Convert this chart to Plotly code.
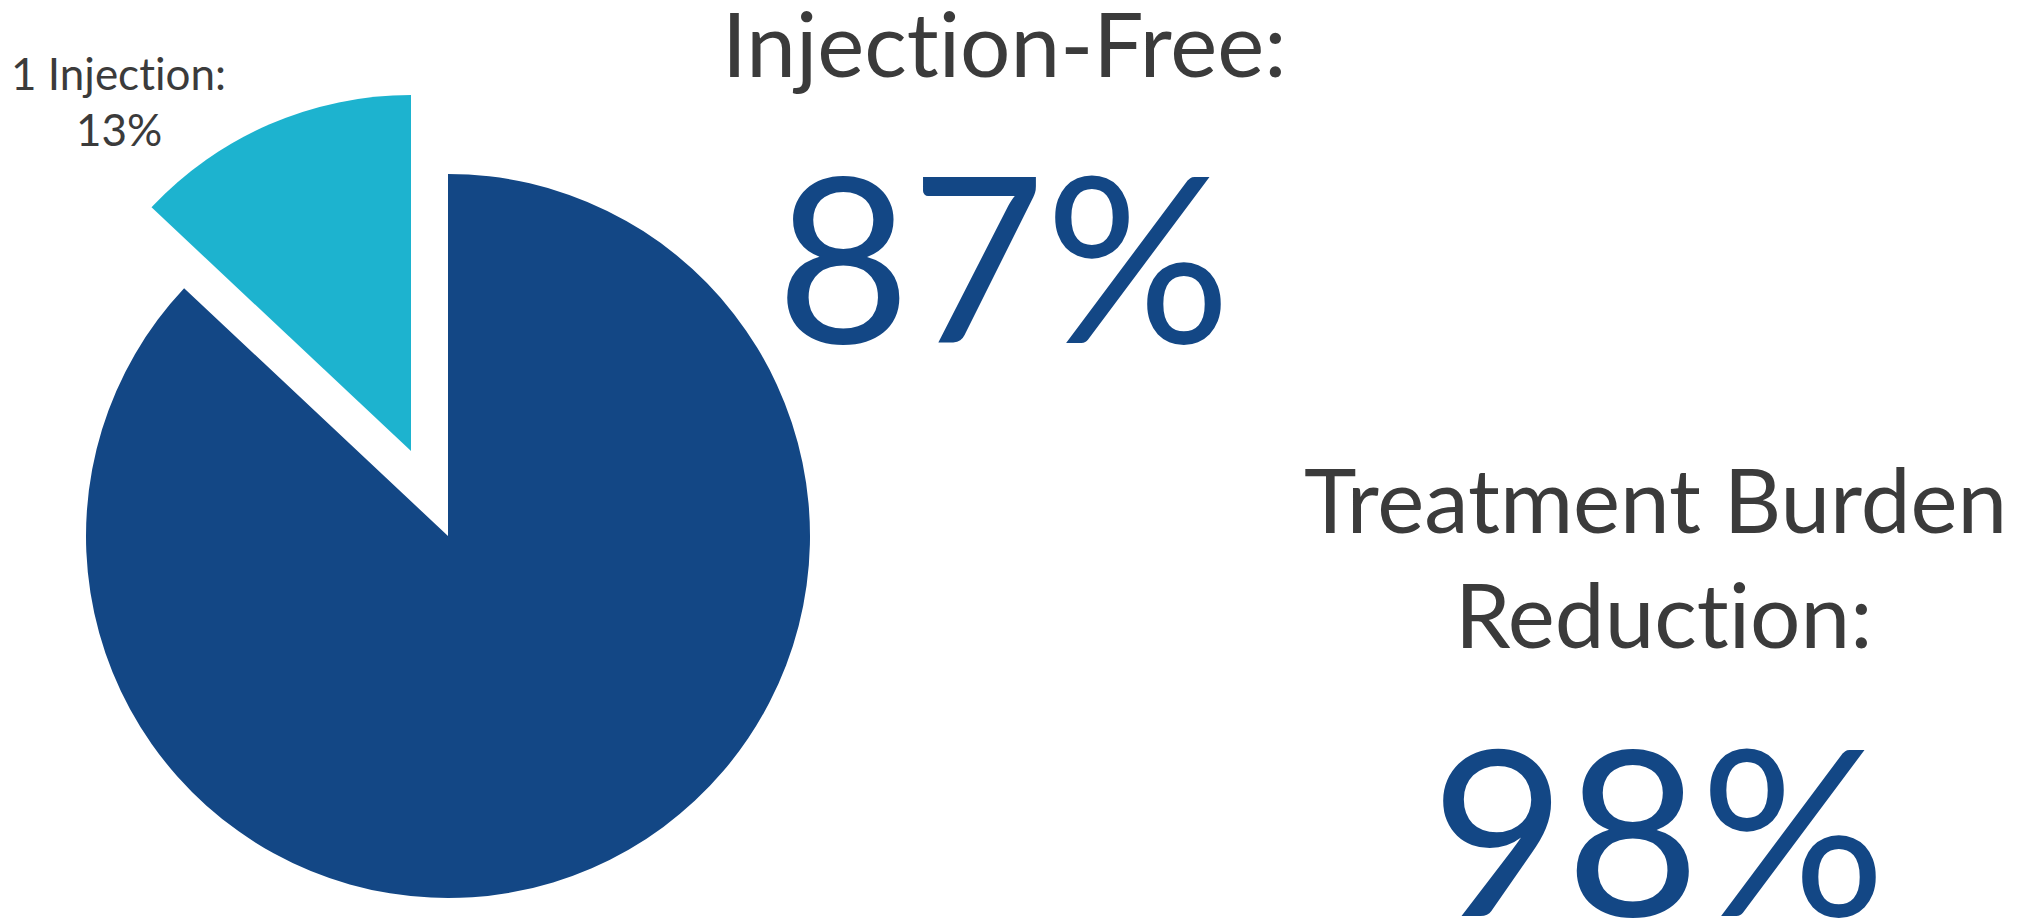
import plotly.graph_objects as go

# ---- data ----
labels = ["Injection-Free", "1 Injection"]
values = [87, 13]
slice_colors = ["#134785", "#1DB3CF"]
headline_injection_free = "87%"
headline_burden = "98%"
burden_reduction_label = ["Treatment Burden", "Reduction:"]

W, H = 2039, 921
TRANSPARENT = "rgba(0,0,0,0)"

def dom(cx, cy, r):
    # pixel centre/radius -> paper domain
    return dict(x=[(cx - r) / W, (cx + r) / W],
                y=[(H - (cy + r)) / H, (H - (cy - r)) / H])

fig = go.Figure()
# main slice
fig.add_trace(go.Pie(
    labels=labels, values=values, sort=False, direction="clockwise", rotation=0,
    marker=dict(colors=[slice_colors[0], TRANSPARENT], line=dict(width=0)),
    textinfo="none", hoverinfo="label+percent", showlegend=False,
    domain=dom(448, 536, 362),
))
# exploded small slice
fig.add_trace(go.Pie(
    labels=labels, values=values, sort=False, direction="clockwise", rotation=0,
    marker=dict(colors=[TRANSPARENT, slice_colors[1]], line=dict(width=0)),
    textinfo="none", hoverinfo="label+percent", showlegend=False,
    domain=dom(411, 451, 356),
))

GRAY = "#3B3B3B"
FONT = "Lato"

def ann(text, x, y, size, color):
    styled = f'<span style="font-variant-ligatures:none">{text}</span>'
    return dict(text=styled, x=x / W, y=(H - y) / H, xref="paper", yref="paper",
                xanchor="center", yanchor="middle", showarrow=False,
                font=dict(family=FONT, size=size, color=color))

annotations = [
    ann(f"{labels[1]}:", 118, 73, 44, GRAY),
    ann(f"{values[1]}%", 119, 129, 44, GRAY),
    ann(f"{labels[0]}:", 1004, 42, 89, GRAY),
    ann(headline_injection_free, 1003, 253, 232, slice_colors[0]),
    ann(burden_reduction_label[0], 1655, 498, 89, GRAY),
    ann(burden_reduction_label[1], 1663, 613, 89, GRAY),
    ann(headline_burden, 1658, 826, 232, slice_colors[0]),
]

fig.update_layout(
    width=W, height=H, margin=dict(l=0, r=0, t=0, b=0),
    paper_bgcolor="white", plot_bgcolor="white",
    annotations=annotations,
)
fig.write_html("out.html")
